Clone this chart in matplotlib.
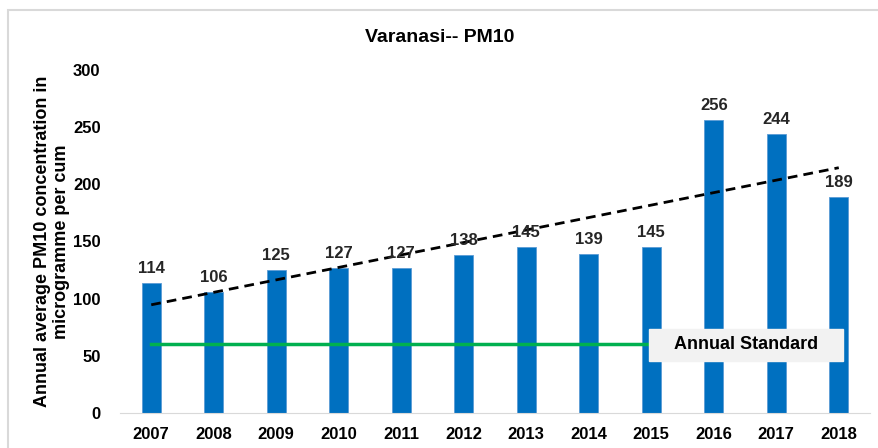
import numpy as np
import matplotlib.pyplot as plt
from matplotlib.patches import Rectangle

plt.rcParams['font.family'] = ['Liberation Sans', 'DejaVu Sans']
plt.rcParams['font.weight'] = 'bold'

years = ['2007', '2008', '2009', '2010', '2011', '2012',
         '2013', '2014', '2015', '2016', '2017', '2018']
pm10 = [114, 106, 125, 127, 127, 138, 145, 139, 145, 256, 244, 189]
annual_standard = 60

fig = plt.figure(figsize=(8.79, 4.48), dpi=100)
ax = fig.add_axes([0.1365, 0.0781, 0.8533, 0.7657])

# outer chart frame
fig.patches.append(Rectangle((8 / 879, -0.05), 1.0, 1.05 - 10 / 448,
                             transform=fig.transFigure, fill=False,
                             edgecolor='#D9D9D9', linewidth=1.5))

x = np.arange(len(years))
ax.bar(x, pm10, width=0.31, color='#0070C0', edgecolor='#5B9BD5',
       linewidth=0.6, zorder=2)
for xi, v in zip(x, pm10):
    ax.text(xi, v + 6, str(v), ha='center', va='bottom',
            fontsize=12, fontweight='bold', color='#262626', zorder=5)

# linear trend
slope, icpt = np.polyfit(x, pm10, 1)
ax.plot([x[0], x[-1]], [icpt, icpt + slope * x[-1]], color='black',
        linestyle=(0, (3.5, 2.2)), linewidth=2, zorder=4)

# standard line with label box
ax.plot([x[0], x[-1]], [annual_standard] * 2, color='#00B050',
        linewidth=2.5, zorder=3)
ax.add_patch(Rectangle((7.96, annual_standard - 14.5), 3.11, 28,
                       facecolor='#F2F2F2', edgecolor='#F2F2F2', zorder=6))
ax.text(9.515, annual_standard, 'Annual Standard', ha='center', va='center',
        fontsize=13, fontweight='bold', color='black', zorder=7)

ax.set_xlim(-0.5, 11.5)
ax.set_ylim(0, 300)
ax.set_yticks(range(0, 301, 50))
ax.set_xticks(x)
ax.set_xticklabels(years)
ax.tick_params(length=0, labelsize=12, colors='black')
ax.tick_params(axis='y', pad=14)
ax.tick_params(axis='x', pad=10)
for lbl in ax.get_xticklabels() + ax.get_yticklabels():
    lbl.set_fontweight('bold')
for s in ['top', 'right', 'left']:
    ax.spines[s].set_visible(False)
ax.spines['bottom'].set_color('#D9D9D9')

ax.set_ylabel('Annual average PM10 concentration in\nmicrogramme per cum',
              fontsize=13, fontweight='bold', labelpad=2)
fig.text(0.5005, 1 - 38 / 448, 'Varanasi-- PM10', ha='center', va='center',
         fontsize=14, fontweight='bold')

fig.savefig('out.png', dpi=100)
